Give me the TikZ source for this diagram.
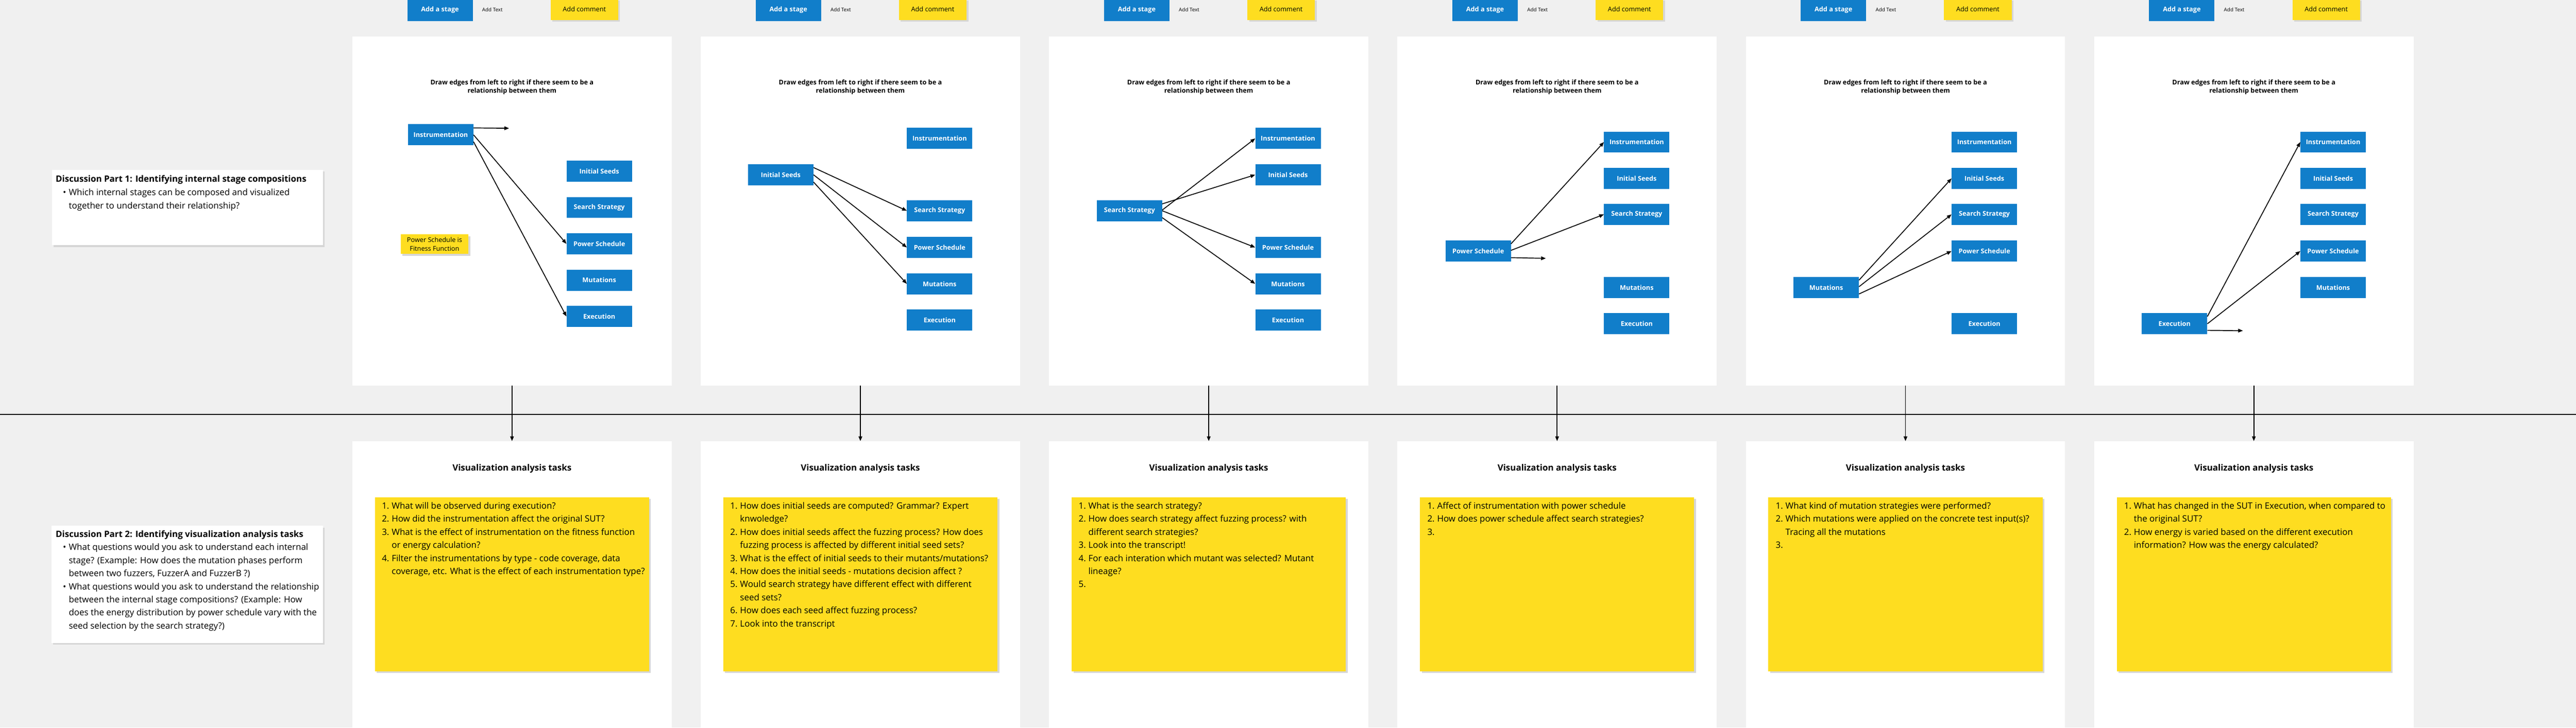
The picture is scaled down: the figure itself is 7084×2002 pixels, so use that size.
\documentclass[tikz,border=0pt]{standalone}
\usepackage{fontspec}
\setmainfont{Open Sans}
\usetikzlibrary{arrows.meta,shadows}

\definecolor{boardgray}{RGB}{240,240,240}
\definecolor{stageblue}{RGB}{17,126,202}
\definecolor{noteyellow}{RGB}{254,221,32}
\definecolor{shadowgray}{RGB}{214,214,214}

\begin{document}
\begin{tikzpicture}[x=1pt, y=-1pt,
    stage/.style={fill=stageblue, text=white, font=\bfseries\fontsize{18}{22}\selectfont,
        minimum width=180pt, minimum height=58pt, inner sep=0pt},
    note/.style={fill=noteyellow, inner sep=0pt, align=center, font=\fontsize{18}{23}\selectfont,
        drop shadow={shadow xshift=5pt, shadow yshift=-5pt, opacity=1, fill=shadowgray}},
    card/.style={fill=white, inner sep=0pt,
        drop shadow={shadow xshift=4pt, shadow yshift=-5pt, opacity=1, fill=shadowgray}},
    board/.style={fill=white, inner sep=0pt, minimum width=878pt},
    edge/.style={line width=2.4pt, -{Triangle[length=13pt,width=10pt]}},
    tasklist/.style={anchor=north west, inner sep=0pt, font=\fontsize{24}{36}\selectfont},
]
\useasboundingbox (0,0) rectangle (7084,2002);
\fill[boardgray] (0,0) rectangle (7084,2002);

% discussion cards on the left
\node[card, minimum width=745pt, minimum height=208pt] (disc1) at (515.5,571) {};
\node[anchor=north west, inner sep=0pt, font=\fontsize{24}{37}\selectfont] (disc1text) at (153,475) {%
  \begin{tabular}{@{}p{20pt}@{}p{16pt}@{}l@{}}
  \multicolumn{3}{@{}l@{}}{\bfseries Discussion Part 1: Identifying internal stage compositions}\\
  & \textbullet & Which internal stages can be composed and visualized\\
  & & together to understand their relationship?
  \end{tabular}};

\node[card, minimum width=746pt, minimum height=322pt] (disc2) at (515,1608) {};
\node[anchor=north west, inner sep=0pt, font=\fontsize{24}{36}\selectfont] (disc2text) at (153,1453) {%
  \begin{tabular}{@{}p{20pt}@{}p{16pt}@{}l@{}}
  \multicolumn{3}{@{}l@{}}{\bfseries Discussion Part 2: Identifying visualization analysis tasks}\\
  & \textbullet & What questions would you ask to understand each internal\\
  & & stage? (Example: How does the mutation phases perform\\
  & & between two fuzzers, FuzzerA and FuzzerB ?)\\
  & \textbullet & What questions would you ask to understand the relationship\\
  & & between the internal stage compositions? (Example: How\\
  & & does the energy distribution by power schedule vary with the\\
  & & seed selection by the search strategy?)
  \end{tabular}};

% the rail between the two rows
\coordinate (railW) at (0,1140);
\coordinate (railE) at (7084,1140);
\draw[line width=2.6pt] (railW) -- (railE);

% six columns: buttons, stage board, task board
\foreach \i in {1,...,6} {
  \pgfmathsetmacro{\L}{969+958*(\i-1)}
  \node[stage, minimum height=62pt] (addstage\i) at (\L+241,27) {Add a stage};
  \node[font=\fontsize{14}{16}\selectfont, inner sep=0pt] (addtext\i) at (\L+385,27) {Add Text};
  \node[note, minimum width=186pt, minimum height=59pt] (addcomment\i) at (\L+638,25.5) {Add comment};

  \node[board, minimum height=960pt] (upper\i) at (\L+439,581) {};
  \node[font=\bfseries\fontsize{18}{23}\selectfont, align=center, inner sep=0pt] (hint\i)
      at (\L+439,240) {Draw edges from left to right if there seem to be a\\relationship between them};

  \node[board, minimum height=800pt] (lower\i) at (\L+439,1614) {};
  \draw[edge, line width=2.6pt] (upper\i.south) -- (lower\i.north);
  \node[font=\bfseries\fontsize{24}{28}\selectfont, inner sep=0pt] (tasks\i) at (\L+439,1290) {Visualization analysis tasks};
  \node[note, minimum width=754pt, minimum height=479pt] (notes\i) at (\L+439,1607.5) {};
}

% panel 1
\node[stage] (p1instr) at (1212,371) {Instrumentation};
\node[stage] (p1seeds) at (1648,471) {Initial Seeds};
\node[stage] (p1search) at (1648,571) {Search Strategy};
\node[stage] (p1power) at (1648,671) {Power Schedule};
\node[stage] (p1mut) at (1648,771) {Mutations};
\node[stage] (p1exec) at (1648,871) {Execution};
\node[note, minimum width=186pt, minimum height=54pt] (p1comment) at (1195,672) {Power Schedule is\\Fitness Function};
\coordinate (p1open) at (1400,353);
\draw[edge] ([yshift=19pt]p1instr.east) -- (p1open);
\draw[edge] (p1instr.east) -- (p1power.west);
\draw[edge] ([yshift=-19pt]p1instr.east) -- (p1exec.west);

% panel 2
\node[stage] (p2seeds) at (2147,481) {Initial Seeds};
\node[stage] (p2instr) at (2584,381) {Instrumentation};
\node[stage] (p2search) at (2584,580) {Search Strategy};
\node[stage] (p2power) at (2584,681) {Power Schedule};
\node[stage] (p2mut) at (2584,781) {Mutations};
\node[stage] (p2exec) at (2584,881) {Execution};
\draw[edge] ([yshift=20pt]p2seeds.east) -- (p2search.west);
\draw[edge] (p2seeds.east) -- (p2power.west);
\draw[edge] ([yshift=-20pt]p2seeds.east) -- (p2mut.west);

% panel 3
\node[stage] (p3search) at (3106,580) {Search Strategy};
\node[stage] (p3instr) at (3542,381) {Instrumentation};
\node[stage] (p3seeds) at (3542,481) {Initial Seeds};
\node[stage] (p3power) at (3542,681) {Power Schedule};
\node[stage] (p3mut) at (3542,781) {Mutations};
\node[stage] (p3exec) at (3542,881) {Execution};
\draw[edge] ([yshift=19pt]p3search.east) -- (p3seeds.west);
\draw[edge] ([yshift=2pt]p3search.east) -- (p3instr.west);
\draw[edge] (p3search.east) -- (p3power.west);
\draw[edge] ([yshift=-19pt]p3search.east) -- (p3mut.west);

% panel 4
\node[stage] (p4power) at (4065,691) {Power Schedule};
\node[stage] (p4instr) at (4501,391) {Instrumentation};
\node[stage] (p4seeds) at (4501,491) {Initial Seeds};
\node[stage] (p4search) at (4501,590) {Search Strategy};
\node[stage] (p4mut) at (4501,791) {Mutations};
\node[stage] (p4exec) at (4501,891) {Execution};
\coordinate (p4open) at (4251,711);
\draw[edge] ([yshift=20pt]p4power.east) -- (p4instr.west);
\draw[edge] ([yshift=2pt]p4power.east) -- (p4search.west);
\draw[edge] ([yshift=-18pt]p4power.east) -- (p4open);

% panel 5
\node[stage] (p5mut) at (5022,791) {Mutations};
\node[stage] (p5instr) at (5457,391) {Instrumentation};
\node[stage] (p5seeds) at (5457,491) {Initial Seeds};
\node[stage] (p5search) at (5457,590) {Search Strategy};
\node[stage] (p5power) at (5457,691) {Power Schedule};
\node[stage] (p5exec) at (5457,891) {Execution};
\draw[edge] ([yshift=20pt]p5mut.east) -- (p5seeds.west);
\draw[edge] ([yshift=2pt]p5mut.east) -- (p5search.west);
\draw[edge] ([yshift=-18pt]p5mut.east) -- (p5power.west);

% panel 6
\node[stage] (p6exec) at (5980,891) {Execution};
\node[stage] (p6instr) at (6416,391) {Instrumentation};
\node[stage] (p6seeds) at (6416,491) {Initial Seeds};
\node[stage] (p6search) at (6416,590) {Search Strategy};
\node[stage] (p6power) at (6416,691) {Power Schedule};
\node[stage] (p6mut) at (6416,791) {Mutations};
\coordinate (p6open) at (6168,910);
\draw[edge] ([yshift=20pt]p6exec.east) -- (p6instr.west);
\draw[edge] (p6exec.east) -- (p6power.west);
\draw[edge] ([yshift=-18pt]p6exec.east) -- (p6open);

% task lists
\node[tasklist] (list1) at (1050,1375) {\begin{tabular}{@{}p{27pt}@{}l@{}}
  1. & What will be observed during execution?\\
  2. & How did the instrumentation affect the original SUT?\\
  3. & What is the effect of instrumentation on the fitness function\\
     & or energy calculation?\\
  4. & Filter the instrumentations by type - code coverage, data\\
     & coverage, etc. What is the effect of each instrumentation type?
  \end{tabular}};
\node[tasklist] (list2) at (2008,1375) {\begin{tabular}{@{}p{27pt}@{}l@{}}
  1. & How does initial seeds are computed? Grammar? Expert\\
     & knwoledge?\\
  2. & How does initial seeds affect the fuzzing process? How does\\
     & fuzzing process is affected by different initial seed sets?\\
  3. & What is the effect of initial seeds to their mutants/mutations?\\
  4. & How does the initial seeds - mutations decision affect ?\\
  5. & Would search strategy have different effect with different\\
     & seed sets?\\
  6. & How does each seed affect fuzzing process?\\
  7. & Look into the transcript
  \end{tabular}};
\node[tasklist] (list3) at (2966,1375) {\begin{tabular}{@{}p{27pt}@{}l@{}}
  1. & What is the search strategy?\\
  2. & How does search strategy affect fuzzing process? with\\
     & different search strategies?\\
  3. & Look into the transcript!\\
  4. & For each interation which mutant was selected? Mutant\\
     & lineage?\\
  5. &
  \end{tabular}};
\node[tasklist] (list4) at (3925,1375) {\begin{tabular}{@{}p{27pt}@{}l@{}}
  1. & Affect of instrumentation with power schedule\\
  2. & How does power schedule affect search strategies?\\
  3. &
  \end{tabular}};
\node[tasklist] (list5) at (4883,1375) {\begin{tabular}{@{}p{27pt}@{}l@{}}
  1. & What kind of mutation strategies were performed?\\
  2. & Which mutations were applied on the concrete test input(s)?\\
     & Tracing all the mutations\\
  3. &
  \end{tabular}};
\node[tasklist] (list6) at (5841,1375) {\begin{tabular}{@{}p{27pt}@{}l@{}}
  1. & What has changed in the SUT in Execution, when compared to\\
     & the original SUT?\\
  2. & How energy is varied based on the different execution\\
     & information? How was the energy calculated?
  \end{tabular}};

\end{tikzpicture}
\end{document}
